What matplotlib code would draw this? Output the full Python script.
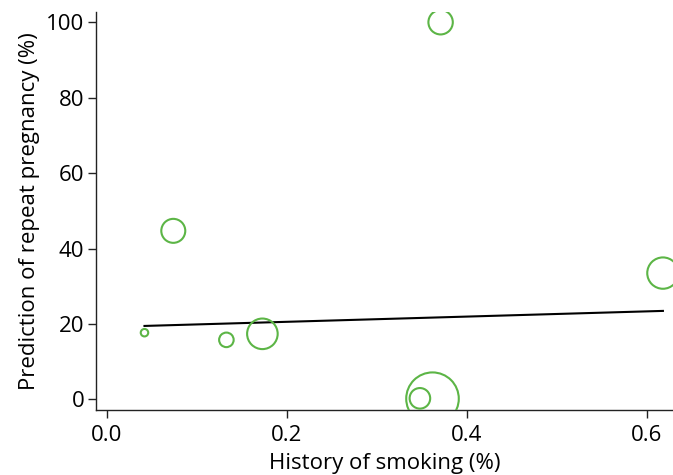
import numpy as np
import matplotlib
matplotlib.use("Agg")
import matplotlib.pyplot as plt

# study-level values
smoking = [0.042, 0.074, 0.133, 0.173, 0.348, 0.362, 0.371, 0.618]
repeat_preg = [17.7, 44.7, 15.8, 17.4, 0.3, 0.2, 100.0, 33.5]
# relative bubble areas (study weights)
weights = [14, 144, 53, 234, 106, 692, 149, 246]

# meta-regression fit
intercept = 19.2
slope = 6.92

plt.rcParams['font.family'] = ['Open Sans', 'DejaVu Sans']

fig = plt.figure(figsize=(6.73, 4.75), dpi=100)
ax = fig.add_axes([0.1426, 0.1368, 0.8574, 0.8386])

ax.scatter(smoking, repeat_preg, s=np.array(weights) * 2.07, facecolors='none',
           edgecolors='#5cb546', linewidths=1.5, zorder=3)

xs = np.array([min(smoking), max(smoking)])
ax.plot(xs, intercept + slope * xs, color='black', lw=1.5, zorder=2)

ax.set_xlim(-0.0119, 0.6292)
ax.set_ylim(-2.8, 102.8)
ax.set_xticks([0.0, 0.2, 0.4, 0.6])
ax.set_xticklabels(['0.0', '0.2', '0.4', '0.6'])
ax.set_yticks([0, 20, 40, 60, 80, 100])

for side in ['top', 'right']:
    ax.spines[side].set_visible(False)
for side in ['left', 'bottom']:
    ax.spines[side].set_linewidth(1.0)
    ax.spines[side].set_color('#222222')

ax.tick_params(axis='both', labelsize=16, length=5.5, width=1.0, color='#222222')
ax.tick_params(axis='x', pad=5)
ax.tick_params(axis='y', pad=3)

ax.set_xlabel('History of smoking (%)', fontsize=16, labelpad=5)
ax.set_ylabel('Prediction of repeat pregnancy (%)', fontsize=16, labelpad=4)

fig.savefig('out.png', dpi=100)
